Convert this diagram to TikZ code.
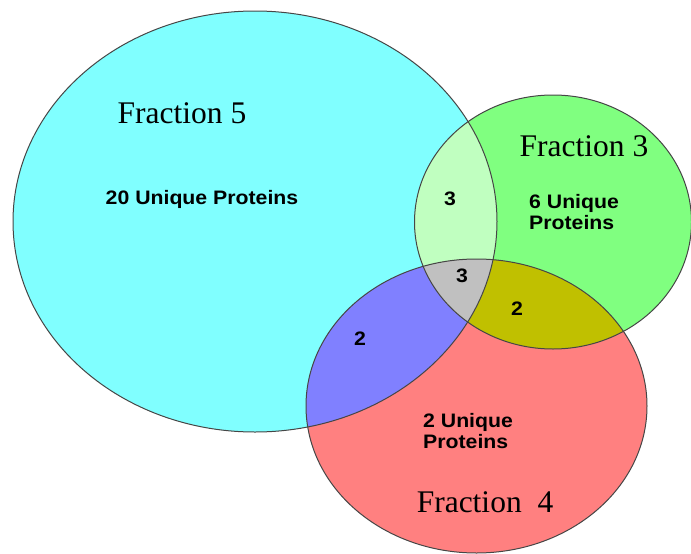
\documentclass[tikz,border=0pt]{standalone}
\usepackage{fontspec}
\setmainfont{Liberation Serif}
\newfontfamily\countfont[FakeStretch=1.09]{Liberation Sans}
\definecolor{fivecol}{RGB}{128,255,255}
\definecolor{threecol}{RGB}{128,255,128}
\definecolor{fourcol}{RGB}{255,128,128}
\definecolor{fivethree}{RGB}{192,255,192}
\definecolor{fivefour}{RGB}{128,128,255}
\definecolor{threefour}{RGB}{192,192,0}
\definecolor{allthree}{RGB}{192,192,192}
\definecolor{rimcol}{RGB}{70,70,70}
\begin{document}
\begin{tikzpicture}[x=1pt,y=-1pt,
  frac/.style={font=\fontsize{31.5}{36}\selectfont,anchor=base,inner sep=0pt},
  count/.style={font=\countfont\bfseries\fontsize{19.5}{21}\selectfont,align=left,inner sep=0pt}]
\useasboundingbox (0,0) rectangle (691,554);
\def\setfive{(255,221.5) ellipse [x radius=242,y radius=210.5]}
\def\setthree{(553,222) ellipse [x radius=138.5,y radius=127]}
\def\setfour{(476.5,406) ellipse [x radius=170.5,y radius=147]}
% sets
\fill[fivecol] \setfive;
\fill[threecol] \setthree;
\fill[fourcol] \setfour;
% overlaps
\begin{scope} \clip \setfive; \fill[fivethree] \setthree; \fill[fivefour] \setfour; \end{scope}
\begin{scope} \clip \setthree; \fill[threefour] \setfour; \end{scope}
\begin{scope} \clip \setfive; \clip \setthree; \fill[allthree] \setfour; \end{scope}
\foreach \s in {\setfive,\setthree,\setfour} \draw[rimcol,line width=1pt] \s;
% labels
\node[frac] (fivename) at (182,123) {Fraction 5};
\node[frac] (threename) at (584,156) {Fraction 3};
\node[frac] (fourname) at (485,512) {Fraction\ \ 4};
\node[count,anchor=base] (fiveonly) at (202,204) {20 Unique Proteins};
\node[count,anchor=west] (threeonly) at (529,212) {6 Unique\\Proteins};
\node[count,anchor=west] (fouronly) at (423,431) {2 Unique\\Proteins};
\node[count,anchor=base] (fivethreen) at (450,205) {3};
\node[count,anchor=base] (alln) at (462,282) {3};
\node[count,anchor=base] (threefourn) at (517,315) {2};
\node[count,anchor=base] (fivefourn) at (360,345) {2};
\end{tikzpicture}
\end{document}
